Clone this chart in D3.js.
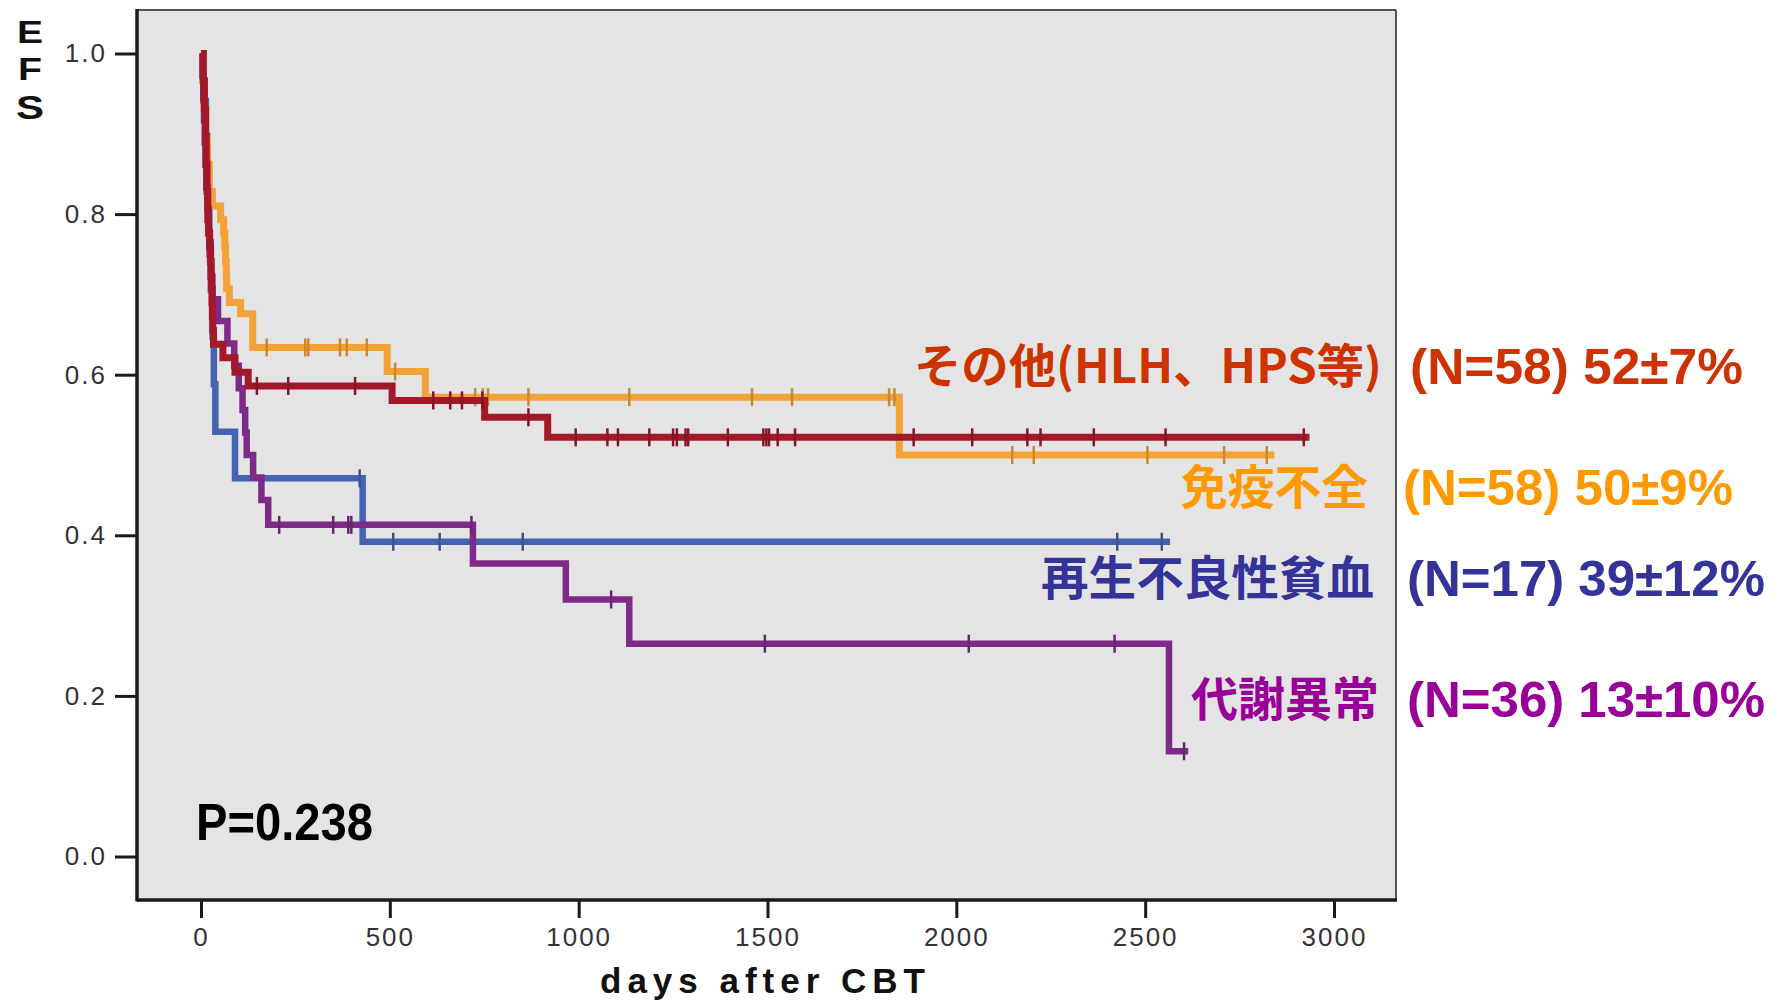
<!DOCTYPE html>
<html>
<head>
<meta charset="utf-8">
<script src="https://cdn.jsdelivr.net/npm/d3@7"></script>
<style>
  html, body { margin: 0; padding: 0; background: #ffffff; }
  svg { display: block; }
</style>
</head>
<body>
<svg id="chart" width="1784" height="1002"></svg>
<script>
// Event-free survival (EFS) after cord blood transplantation, by disease group.

const groups = ["その他(HLH、HPS等)", "免疫不全", "再生不良性貧血", "代謝異常"];
const groupStats = ["(N=58) 52±7%", "(N=58) 50±9%", "(N=17) 39±12%", "(N=36) 13±10%"];

// Kaplan–Meier steps as [day, survival from that day on]
const stepsOther = [
  [0, 1.000], [6, 0.966], [9, 0.931], [12, 0.897], [14, 0.862], [16, 0.828], [18, 0.793],
  [20, 0.776], [23, 0.759], [25, 0.741], [27, 0.724], [28, 0.707], [29, 0.690], [30, 0.672],
  [31, 0.655], [33, 0.638], [58, 0.621], [90, 0.603], [125, 0.586], [506, 0.568],
  [751, 0.547], [918, 0.522]
];
const censorOther = [148, 231, 408, 615, 660, 691, 745, 867, 992, 1076, 1104, 1187, 1250, 1260,
  1283, 1290, 1395, 1489, 1497, 1504, 1527, 1573, 1887, 2042, 2188, 2223, 2364, 2554, 2920];
const lastDayOther = 2935;

const stepsImmune = [
  [0, 1.000], [5, 0.966], [9, 0.931], [13, 0.897], [17, 0.862], [22, 0.828], [30, 0.810],
  [52, 0.793], [60, 0.776], [63, 0.759], [65, 0.741], [67, 0.724], [68, 0.707], [75, 0.690],
  [105, 0.676], [137, 0.634], [493, 0.604], [594, 0.572], [1849, 0.500]
];
const censorImmune = [174, 276, 284, 368, 386, 439, 514, 726, 746, 760, 867, 1134, 1459, 1565,
  1822, 1836, 2148, 2205, 2506, 2709, 2822];
const lastDayImmune = 2842;

const stepsAplastic = [
  [0, 1.000], [7, 0.941], [13, 0.882], [18, 0.824], [22, 0.765], [26, 0.706], [31, 0.647],
  [34, 0.588], [38, 0.529], [90, 0.471], [428, 0.392]
];
const censorAplastic = [420, 509, 632, 852, 2426, 2544];
const lastDayAplastic = 2566;

const stepsMetabolic = [
  [0, 1.000], [4, 0.972], [6, 0.944], [8, 0.917], [10, 0.889], [12, 0.861], [14, 0.833],
  [17, 0.806], [20, 0.778], [23, 0.750], [26, 0.722], [30, 0.694], [45, 0.667], [70, 0.639],
  [88, 0.611], [100, 0.583], [110, 0.556], [117, 0.528], [121, 0.500], [138, 0.472],
  [160, 0.444], [178, 0.413], [720, 0.365], [966, 0.320], [1134, 0.265], [2563, 0.131]
];
const censorMetabolic = [207, 350, 390, 398, 716, 1086, 1493, 2033, 2419, 2603];
const lastDayMetabolic = 2614;

const yTickValues = [0.0, 0.2, 0.4, 0.6, 0.8, 1.0];
const xTickValues = [0, 500, 1000, 1500, 2000, 2500, 3000];
const xTitle = "days after CBT";
const yTitleLetters = ["E", "F", "S"];
const pValueText = "P=0.238";

// ---- layout & styling ----
const svg = d3.select("#chart");
const frame = { left: 137, top: 10, right: 1396, bottom: 900 };

const x = d3.scaleLinear().domain([0, 3000]).range([201, 1334]);
const y = d3.scaleLinear().domain([0, 1]).range([856.5, 53.5]);

const lineColors = ["#a3192a", "#f2a236", "#4563b0", "#7d2a88"];
const lineWidths = [7, 7, 6.5, 6.5];
const textColors = ["#cc3300", "#ff9900", "#333399", "#990099"];

const series = [
  { steps: stepsOther, censor: censorOther, last: lastDayOther },
  { steps: stepsImmune, censor: censorImmune, last: lastDayImmune },
  { steps: stepsAplastic, censor: censorAplastic, last: lastDayAplastic },
  { steps: stepsMetabolic, censor: censorMetabolic, last: lastDayMetabolic }
].map((s, i) => ({ ...s, color: lineColors[i], width: lineWidths[i], index: i }));

// plot background
svg.append("rect")
  .attr("x", frame.left).attr("y", frame.top)
  .attr("width", frame.right - frame.left).attr("height", frame.bottom - frame.top)
  .attr("fill", "#e4e4e4");

// survival value at a given day
function survivalAt(steps, day) {
  let v = steps[0][1];
  for (const [d, s] of steps) { if (d <= day) v = s; else break; }
  return v;
}

const stepLine = d3.line()
  .x(d => x(d[0]))
  .y(d => y(d[1]))
  .curve(d3.curveStepAfter);

// draw order: blue, orange, purple, red (red on top)
const drawOrder = [2, 1, 3, 0];
const plot = svg.append("g");
drawOrder.forEach(i => {
  const s = series[i];
  const pts = s.steps.concat([[s.last, s.steps[s.steps.length - 1][1]]]);
  const g = plot.append("g");
  g.append("path")
    .attr("d", stepLine(pts))
    .attr("fill", "none")
    .attr("stroke", s.color)
    .attr("stroke-width", s.width)
    .attr("stroke-linejoin", "miter")
    .attr("stroke-linecap", "butt");
  g.selectAll("line.censor")
    .data(s.censor)
    .join("line")
    .attr("class", "censor")
    .attr("x1", d => x(d)).attr("x2", d => x(d))
    .attr("y1", d => y(survivalAt(s.steps, d)) - 9)
    .attr("y2", d => y(survivalAt(s.steps, d)) + 9)
    .attr("stroke", d3.color(s.color).darker(0.5))
    .attr("stroke-width", 2.5);
});

// frame: heavy left/bottom, light top/right
svg.append("line").attr("x1", frame.left).attr("x2", frame.right)
  .attr("y1", frame.top).attr("y2", frame.top).attr("stroke", "#555").attr("stroke-width", 2);
svg.append("line").attr("x1", frame.right).attr("x2", frame.right)
  .attr("y1", frame.top).attr("y2", frame.bottom).attr("stroke", "#555").attr("stroke-width", 2);
svg.append("line").attr("x1", frame.left).attr("x2", frame.left)
  .attr("y1", frame.top - 1).attr("y2", frame.bottom + 1.5).attr("stroke", "#1a1a1a").attr("stroke-width", 3.5);
svg.append("line").attr("x1", frame.left).attr("x2", frame.right + 1)
  .attr("y1", frame.bottom).attr("y2", frame.bottom).attr("stroke", "#1a1a1a").attr("stroke-width", 3.5);

// axes
const yAxis = d3.axisLeft(y)
  .tickValues(yTickValues)
  .tickFormat(d3.format(".1f"))
  .tickSize(22)
  .tickPadding(8);
const gy = svg.append("g").attr("transform", `translate(${frame.left},0)`).call(yAxis);
gy.select(".domain").remove();
gy.selectAll(".tick line").attr("stroke", "#1a1a1a").attr("stroke-width", 3);
gy.selectAll(".tick text")
  .attr("fill", "#333")
  .style("font-family", "'Liberation Sans', Arial, sans-serif")
  .style("font-size", "26px")
  .style("letter-spacing", "2px");

const xAxis = d3.axisBottom(x)
  .tickValues(xTickValues)
  .tickFormat(d3.format("d"))
  .tickSize(18)
  .tickPadding(10);
const gx = svg.append("g").attr("transform", `translate(0,${frame.bottom})`).call(xAxis);
gx.select(".domain").remove();
gx.selectAll(".tick line").attr("stroke", "#1a1a1a").attr("stroke-width", 3);
gx.selectAll(".tick text")
  .attr("fill", "#333")
  .style("font-family", "'Liberation Sans', Arial, sans-serif")
  .style("font-size", "26px")
  .style("letter-spacing", "2px");

// axis titles
svg.append("text")
  .attr("x", 600).attr("y", 993)
  .attr("textLength", 325).attr("lengthAdjust", "spacing")
  .style("font-family", "'Liberation Sans', Arial, sans-serif")
  .style("font-weight", "bold").style("font-size", "35px")
  .attr("fill", "#111")
  .text(xTitle);

// vertical stacked y title letters
const yTitleBaselines = [43, 80, 119];
const yTitleSizes = [32, 32, 34];
const yTitleWidths = [26, 24, 28];
svg.selectAll("text.ytitle")
  .data(yTitleLetters)
  .join("text")
  .attr("class", "ytitle")
  .attr("x", (d, i) => 30 - yTitleWidths[i] / 2)
  .attr("y", (d, i) => yTitleBaselines[i])
  .attr("textLength", (d, i) => yTitleWidths[i])
  .attr("lengthAdjust", "spacingAndGlyphs")
  .style("font-family", "'Liberation Sans', Arial, sans-serif")
  .style("font-weight", "bold")
  .style("font-size", (d, i) => yTitleSizes[i] + "px")
  .attr("fill", "#111")
  .text(d => d);

// log-rank p value
svg.append("text")
  .attr("x", 196).attr("y", 840)
  .attr("textLength", 177).attr("lengthAdjust", "spacingAndGlyphs")
  .style("font-family", "'Liberation Sans', Arial, sans-serif")
  .style("font-weight", "bold").style("font-size", "52px")
  .attr("fill", "#000")
  .text(pValueText);

// group labels with N and EFS estimate
const labelRows = [
  { nameEnd: 1382, nameWidth: 468, statX: 1410, statWidth: 333, cy: 366 },
  { nameEnd: 1368, nameWidth: 187, statX: 1403, statWidth: 330, cy: 487 },
  { nameEnd: 1374, nameWidth: 333, statX: 1407, statWidth: 358, cy: 578 },
  { nameEnd: 1379, nameWidth: 188, statX: 1407, statWidth: 358, cy: 699 }
];

groups.forEach((name, i) => {
  const r = labelRows[i];
  svg.append("text")
    .attr("x", r.nameEnd).attr("y", r.cy + 17)
    .attr("text-anchor", "end")
    .attr("textLength", r.nameWidth).attr("lengthAdjust", "spacingAndGlyphs")
    .style("font-family", "'Noto Sans CJK JP', 'Noto Sans', sans-serif")
    .style("font-weight", "bold").style("font-size", "47px")
    .attr("fill", textColors[i])
    .text(name);
  svg.append("text")
    .attr("x", r.statX).attr("y", r.cy + 18)
    .attr("textLength", r.statWidth).attr("lengthAdjust", "spacingAndGlyphs")
    .style("font-family", "'Liberation Sans', Arial, sans-serif")
    .style("font-weight", "bold").style("font-size", "50px")
    .attr("fill", textColors[i])
    .text(groupStats[i]);
});
</script>
</body>
</html>
